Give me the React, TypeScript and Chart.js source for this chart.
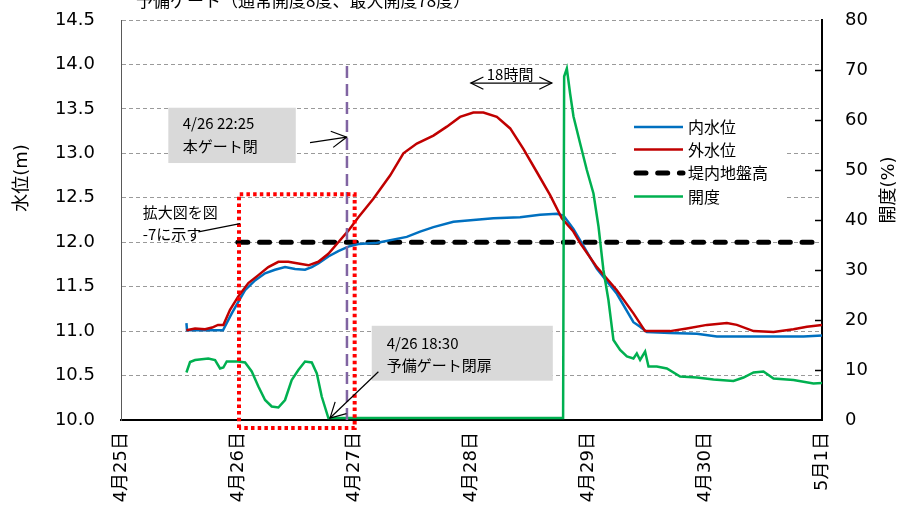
import React, { useEffect, useRef } from "react";
import { Chart, registerables } from "chart.js";

Chart.register(...registerables);

// ---- data (x in days since 4/25 00:00) ----
const dayLabels = ["4月25日", "4月26日", "4月27日", "4月28日", "4月29日", "4月30日", "5月1日"];

const innerDays = [0.56, 0.565, 0.634, 0.762, 0.873, 0.948, 1.004, 1.062, 1.147, 1.233, 1.318, 1.404, 1.49, 1.575, 1.633, 1.689, 1.775, 1.86, 1.946, 2.032, 2.175, 2.217, 2.446, 2.56, 2.674, 2.845, 3.016, 3.188, 3.416, 3.587, 3.73, 3.787, 3.872, 3.93, 4.073, 4.244, 4.386, 4.443, 4.501, 4.7, 4.929, 5.1, 5.271, 5.557, 5.842, 6.0];
const innerLevel = [11.09, 11.01, 11.01, 11.01, 11.01, 11.2, 11.33, 11.46, 11.57, 11.65, 11.69, 11.72, 11.7, 11.69, 11.72, 11.76, 11.84, 11.9, 11.95, 11.98, 11.99, 12.0, 12.06, 12.12, 12.17, 12.23, 12.25, 12.27, 12.28, 12.31, 12.32, 12.3, 12.15, 12.02, 11.7, 11.42, 11.1, 11.05, 10.99, 10.98, 10.97, 10.94, 10.94, 10.94, 10.94, 10.95];

const outerDays = [0.56, 0.634, 0.72, 0.78, 0.83, 0.876, 0.933, 1.004, 1.09, 1.176, 1.261, 1.347, 1.432, 1.518, 1.604, 1.689, 1.775, 1.86, 1.946, 2.032, 2.16, 2.303, 2.417, 2.532, 2.674, 2.789, 2.902, 3.016, 3.102, 3.217, 3.331, 3.444, 3.559, 3.673, 3.773, 3.872, 3.93, 4.073, 4.244, 4.386, 4.486, 4.7, 4.843, 5.015, 5.186, 5.271, 5.414, 5.585, 5.756, 5.871, 6.0];
const outerLevel = [11.01, 11.03, 11.02, 11.04, 11.07, 11.07, 11.24, 11.39, 11.54, 11.63, 11.72, 11.78, 11.78, 11.76, 11.74, 11.78, 11.87, 12.0, 12.13, 12.28, 12.49, 12.75, 13.0, 13.11, 13.2, 13.3, 13.41, 13.46, 13.46, 13.41, 13.28, 13.05, 12.79, 12.53, 12.27, 12.12, 11.99, 11.72, 11.46, 11.2, 11.0, 11.0, 11.03, 11.07, 11.09, 11.07, 11.0, 10.99, 11.02, 11.05, 11.07];

const openDays = [0.56, 0.591, 0.634, 0.747, 0.805, 0.848, 0.876, 0.905, 1.004, 1.062, 1.119, 1.176, 1.233, 1.29, 1.347, 1.404, 1.461, 1.518, 1.575, 1.633, 1.676, 1.718, 1.775, 1.832, 2.5, 3.0, 3.5, 3.784, 3.793, 3.816, 3.844, 3.873, 3.93, 3.987, 4.044, 4.087, 4.129, 4.172, 4.215, 4.272, 4.33, 4.386, 4.415, 4.443, 4.486, 4.515, 4.586, 4.672, 4.786, 4.929, 5.071, 5.242, 5.328, 5.414, 5.499, 5.585, 5.756, 5.927, 6.0];
const openPct = [9.5, 11.6, 12.0, 12.3, 12.0, 10.3, 10.5, 11.7, 11.7, 11.5, 9.7, 6.7, 4.0, 2.7, 2.5, 4.0, 8.0, 10.0, 11.7, 11.5, 9.3, 4.7, 0.4, 0.4, 0.4, 0.4, 0.4, 0.4, 68.7, 70.3, 65.3, 60.7, 55.3, 50.0, 45.3, 38.7, 30.0, 24.0, 16.0, 14.0, 12.7, 12.3, 13.3, 12.0, 13.7, 10.7, 10.7, 10.3, 8.7, 8.5, 8.1, 7.8, 8.5, 9.5, 9.7, 8.3, 8.0, 7.3, 7.4];

const leveeDays = [1.0, 6.0];
const leveeLevel = [12.0, 12.0];

const gateCloseDays = [1.934, 1.934];
const gateCloseLevels = [10.0, 14.0];

const zoomBoxDays = [1.01, 1.01, 2.0, 2.0, 1.01];
const zoomBoxLevels = [9.91, 12.54, 12.54, 9.91, 9.91];

const seriesNames = ["内水位", "外水位", "堤内地盤高", "開度"];

const pts = (xs: number[], ys: number[]) => xs.map((x, i) => ({ x, y: ys[i] }));

const CJK = "'Noto Sans CJK JP'";
const MIX = "'DejaVu Sans', 'Noto Sans CJK JP'";

function arrowHead(ctx: CanvasRenderingContext2D, tx: number, ty: number, fx: number, fy: number, len = 17, half = 0.5) {
  const a = Math.atan2(fy - ty, fx - tx);
  ctx.beginPath();
  ctx.moveTo(tx + len * Math.cos(a + half), ty + len * Math.sin(a + half));
  ctx.lineTo(tx, ty);
  ctx.lineTo(tx + len * Math.cos(a - half), ty + len * Math.sin(a - half));
  ctx.stroke();
}

const annotPlugin = {
  id: "annot",
  beforeDatasetsDraw(chart: any) {
    const { ctx, chartArea } = chart;
    ctx.save();
    ctx.fillStyle = "#ffffff";
    ctx.fillRect(chartArea.left + 496, chartArea.top + 93, 170, 97);
    ctx.restore();
  },
  afterDraw(chart: any) {
    const { ctx, chartArea } = chart;
    const xs = chart.scales.x;
    const ys = chart.scales.y;
    const y1 = chart.scales.y1;
    const X = (d: number) => xs.getPixelForValue(d);
    const Y = (m: number) => ys.getPixelForValue(m);
    ctx.save();

    ctx.strokeStyle = "#000";
    ctx.lineWidth = 1.5;
    for (let v = 10; v < 80; v += 10) {
      const py = Math.round(y1.getPixelForValue(v)) + 0.5;
      ctx.beginPath();
      ctx.moveTo(chartArea.right - 7, py);
      ctx.lineTo(chartArea.right, py);
      ctx.stroke();
    }

    ctx.fillStyle = "#000";
    ctx.font = `17px ${CJK}`;
    ctx.textAlign = "left";
    ctx.textBaseline = "middle";
    ctx.fillText("予備ゲート（通常開度8度、最大開度78度）", chartArea.left + 15, 1);

    ctx.font = `18px ${MIX}`;
    ctx.textAlign = "center";
    ctx.save();
    ctx.translate(22, 178);
    ctx.rotate(-Math.PI / 2);
    ctx.fillText("水位(m)", 0, 0);
    ctx.restore();
    ctx.save();
    ctx.translate(889, 190);
    ctx.rotate(-Math.PI / 2);
    ctx.fillText("開度(%)", 0, 0);
    ctx.restore();

    ctx.fillStyle = "#D9D9D9";
    ctx.fillRect(X(0.405), Y(13.513), X(1.496) - X(0.405), Y(12.891) - Y(13.513));
    ctx.fillStyle = "#000";
    ctx.textAlign = "left";
    ctx.textBaseline = "middle";
    ctx.font = `15px ${CJK}`;
    ctx.fillText("4/26 22:25", X(0.528), Y(13.334));
    ctx.fillText("本ゲート閉", X(0.528), Y(13.082));
    ctx.strokeStyle = "#000";
    ctx.lineWidth = 1.2;
    ctx.beginPath();
    ctx.moveTo(X(1.618), Y(13.12));
    ctx.lineTo(X(1.932), Y(13.183));
    ctx.stroke();
    arrowHead(ctx, X(1.932), Y(13.183), X(1.618), Y(13.12));

    ctx.fillText("拡大図を図", X(0.186), Y(12.34));
    ctx.fillText("-7に示す", X(0.186), Y(12.09));
    ctx.beginPath();
    ctx.moveTo(X(0.662), Y(12.116));
    ctx.lineTo(X(1.019), Y(12.21));
    ctx.stroke();

    ctx.fillStyle = "#D9D9D9";
    ctx.fillRect(X(2.146), Y(11.06), X(3.696) - X(2.146), Y(10.442) - Y(11.06));
    ctx.fillStyle = "#000";
    ctx.fillText("4/26 18:30", X(2.275), Y(10.862));
    ctx.fillText("予備ゲート閉扉", X(2.275), Y(10.618));
    ctx.beginPath();
    ctx.moveTo(X(2.203), Y(10.543));
    ctx.lineTo(X(1.789), Y(10.022));
    ctx.stroke();
    arrowHead(ctx, X(1.789), Y(10.022), X(2.203), Y(10.543));

    ctx.textAlign = "center";
    ctx.fillText("18時間", X(3.33), Y(13.884));
    ctx.beginPath();
    ctx.moveTo(X(2.994), Y(13.79));
    ctx.lineTo(X(3.688), Y(13.79));
    ctx.stroke();
    arrowHead(ctx, X(2.994), Y(13.79), X(3.688), Y(13.79), 14, 0.45);
    arrowHead(ctx, X(3.688), Y(13.79), X(2.994), Y(13.79), 14, 0.45);

    const lx = chartArea.left + 513;
    const lw = 49;
    const rows = [chartArea.top + 107, chartArea.top + 129.5, chartArea.top + 153, chartArea.top + 176.5];
    ctx.font = `16px ${CJK}`;
    ctx.textAlign = "left";
    ctx.textBaseline = "middle";
    for (let i = 0; i < 4; i++) {
      const ds = chart.data.datasets[i];
      ctx.save();
      ctx.strokeStyle = ds.borderColor;
      ctx.lineWidth = ds.borderWidth;
      ctx.lineCap = ds.borderCapStyle || "butt";
      ctx.setLineDash(ds.borderDash || []);
      ctx.beginPath();
      ctx.moveTo(lx + (i === 2 ? 2 : 0), rows[i]);
      ctx.lineTo(lx + lw, rows[i]);
      ctx.stroke();
      ctx.restore();
      ctx.fillStyle = "#000";
      ctx.fillText(seriesNames[i], lx + lw + 5, rows[i]);
    }
    ctx.restore();
  },
};

export default function App() {
  const ref = useRef<HTMLCanvasElement | null>(null);
  useEffect(() => {
    document.body.style.margin = "0";
    const canvas = ref.current!;
    const chart = new Chart(canvas, {
      type: "line",
      data: {
        datasets: [
          {
            label: seriesNames[0],
            data: pts(innerDays, innerLevel),
            yAxisID: "y",
            borderColor: "#0070C0",
            borderWidth: 2.5,
            pointRadius: 0,
            tension: 0,
            order: 4,
          },
          {
            label: seriesNames[1],
            data: pts(outerDays, outerLevel),
            yAxisID: "y",
            borderColor: "#C00000",
            borderWidth: 2.5,
            pointRadius: 0,
            tension: 0,
            order: 3,
          },
          {
            label: seriesNames[2],
            data: pts(leveeDays, leveeLevel),
            yAxisID: "y",
            borderColor: "#000000",
            borderWidth: 5,
            borderDash: [10, 11.7],
            borderCapStyle: "round",
            pointRadius: 0,
            order: 5,
          } as any,
          {
            label: seriesNames[3],
            data: pts(openDays, openPct),
            yAxisID: "y1",
            borderColor: "#00B050",
            borderWidth: 2.5,
            pointRadius: 0,
            tension: 0,
            order: 2,
          },
          {
            label: "gate",
            data: pts(gateCloseDays, gateCloseLevels),
            yAxisID: "y",
            borderColor: "#8064A2",
            borderWidth: 2.5,
            borderDash: [12, 6],
            pointRadius: 0,
            order: 1,
          },
          {
            label: "zoom",
            data: pts(zoomBoxDays, zoomBoxLevels),
            yAxisID: "y",
            borderColor: "#FF0000",
            borderWidth: 4,
            borderDash: [3.5, 3.2],
            pointRadius: 0,
            clip: false,
            order: 0,
          } as any,
        ],
      },
      options: {
        responsive: false,
        animation: false,
        events: [],
        layout: { padding: { top: 20, left: 0, right: 0, bottom: 0 } },
        plugins: { legend: { display: false }, tooltip: { enabled: false }, title: { display: false } },
        scales: {
          x: {
            type: "linear",
            min: 0,
            max: 6,
            afterFit: (s: any) => { s.height = 96; },
            grid: { display: false, drawTicks: false, z: -1 } as any,
            border: { display: true, color: "#000", width: 2 },
            ticks: {
              stepSize: 1,
              autoSkip: false,
              minRotation: 90,
              maxRotation: 90,
              padding: 12,
              color: "#000",
              font: { family: MIX, size: 18 },
              callback: (v: any) => dayLabels[Math.round(Number(v))] ?? "",
            },
          },
          y: {
            type: "linear",
            position: "left",
            min: 10,
            max: 14.5,
            afterFit: (s: any) => { s.width = 121; },
            grid: {
              display: true,
              drawTicks: true,
              tickLength: 26,
              tickColor: "rgba(0,0,0,0)",
              color: (c: any) => (c.tick && c.tick.value === 10 ? "rgba(0,0,0,0)" : "#9A9A9A"),
              lineWidth: 1,
            },
            border: { display: true, color: "#595959", width: 1, dash: [4, 3] },
            ticks: {
              stepSize: 0.5,
              padding: 0,
              color: "#000",
              font: { family: MIX, size: 18 },
              callback: (v: any) => Number(v).toFixed(1),
            },
          },
          y1: {
            type: "linear",
            position: "right",
            min: 0,
            max: 80,
            afterFit: (s: any) => { s.width = 88; },
            grid: {
              display: true,
              drawOnChartArea: false,
              drawTicks: true,
              tickLength: 23,
              tickColor: "rgba(0,0,0,0)",
            },
            border: { display: true, color: "#000", width: 2 },
            ticks: {
              stepSize: 10,
              padding: 0,
              color: "#000",
              font: { family: MIX, size: 18 },
            },
          },
        },
      },
      plugins: [annotPlugin],
    } as any);
    return () => chart.destroy();
  }, []);
  return <canvas ref={ref} width={910} height={516} style={{ display: "block" }} />;
}
